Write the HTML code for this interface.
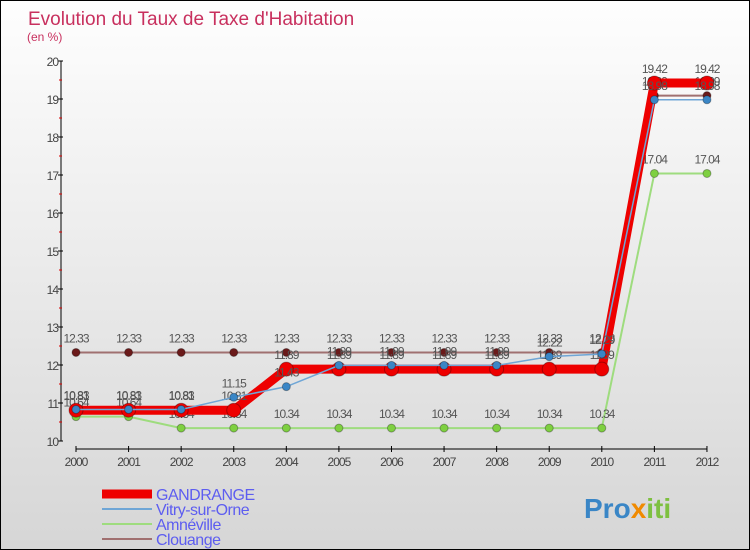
<!DOCTYPE html>
<html><head><meta charset="utf-8"><style>
body{margin:0}
#c{position:relative;width:750px;height:550px;overflow:hidden;font-family:"Liberation Sans",sans-serif;background:linear-gradient(#fefefe,#d6d6d6);box-sizing:border-box;border:1px solid #000}
</style></head><body>
<div id="c">
<svg id="s" width="750" height="550" style="position:absolute;left:0;top:0"></svg>
</div>
<script>
const years=[2000,2001,2002,2003,2004,2005,2006,2007,2008,2009,2010,2011,2012];
const yTicks=[10,11,12,13,14,15,16,17,18,19,20];
const gandrange=[10.81,10.81,10.81,10.81,11.89,11.89,11.89,11.89,11.89,11.89,11.89,19.42,19.42];
const vitry=[10.83,10.83,10.83,11.15,11.43,11.99,11.99,11.99,11.99,12.22,12.29,18.98,18.98];
const amneville=[10.64,10.64,10.34,10.34,10.34,10.34,10.34,10.34,10.34,10.34,10.34,17.04,17.04];
const clouange=[12.33,12.33,12.33,12.33,12.33,12.33,12.33,12.33,12.33,12.33,12.33,19.09,19.09];
const NS="http://www.w3.org/2000/svg",s=document.getElementById('s');
const X=i=>75+i*52.58, Y=v=>440-(v-10)*38;
function el(t,a,p){const e=document.createElementNS(NS,t);for(const k in a)e.setAttribute(k,a[k]);(p||s).appendChild(e);return e;}
function tx(x,y,str,a,p){const e=el('text',Object.assign({x:x,y:y},a),p);e.textContent=str;return e;}
let t=tx(27,24,"Evolution du Taux de Taxe d'Habitation",{fill:'#c8305e','font-size':19});

t=tx(26,40,"(en %)",{fill:'#c8305e','font-size':12});

let a=el('line',{x1:60,y1:60,x2:60,y2:440,stroke:'#000'});
a=el('line',{x1:75,y1:448,x2:706,y2:448,stroke:'#000'});
yTicks.forEach(v=>{el('line',{x1:57,x2:62,y1:Y(v),y2:Y(v),stroke:'#000'});
 if(v<20)el('line',{x1:58,x2:61,y1:Y(v+0.5),y2:Y(v+0.5),stroke:'#d00'});
 const l=tx(57,Y(v)+5,String(v),{'text-anchor':'end','font-size':12,fill:'#444','letter-spacing':'-1'});
 });
years.forEach((y,i)=>{el('line',{x1:X(i),x2:X(i),y1:445,y2:451,stroke:'#000'});
 const l=tx(X(i),465,String(y),{'text-anchor':'middle','font-size':12,fill:'#444','letter-spacing':'-1'});
 });
function series(d,name,col,w,r,mc){
 const p=el('polyline',{points:d.map((v,i)=>X(i)+','+Y(v)).join(' '),fill:'none',stroke:col,'stroke-width':w});
 
 d.forEach((v,i)=>{const c=el('circle',{cx:X(i),cy:Y(v),r:r,fill:mc,stroke:'rgba(0,0,0,.3)'});
  
  const l=tx(X(i),Y(v)-10,v.toFixed(2),{'text-anchor':'middle','font-size':12,fill:'#555','letter-spacing':'-1'});
  });
}
series(clouange,'clouange','#a07070',2,4,'#6b1a1a');
series(amneville,'amneville','#9edc7e',2,4,'#7ed040');
series(gandrange,'gandrange','#ee0000',9,7,'#ee0000');
series(vitry,'vitry','#6fa6d6',1.5,4,'#3a86c6');
const leg=[['GANDRANGE','#ee0000',9],['Vitry-sur-Orne','#6fa6d6',2],['Amnéville','#9edc7e',2],['Clouange','#a07070',2]];
leg.forEach((L,i)=>{const y=493+i*15;
 const g=el('g',{});
 
 
 el('line',{x1:101,x2:151,y1:y,y2:y,stroke:L[1],'stroke-width':L[2]},g);
 tx(155,y+6,L[0],{'font-size':16,fill:'#5d5df0','letter-spacing':'-0.5'},g);
});
const lg=tx(583,517,'',{'font-size':28,'font-weight':'bold'});

[['Pro','#3a86c6'],['x','#f08a00'],['iti','#7ec040']].forEach(p=>{const ts=el('tspan',{fill:p[1]},lg);ts.textContent=p[0];});
</script>
</body></html>
